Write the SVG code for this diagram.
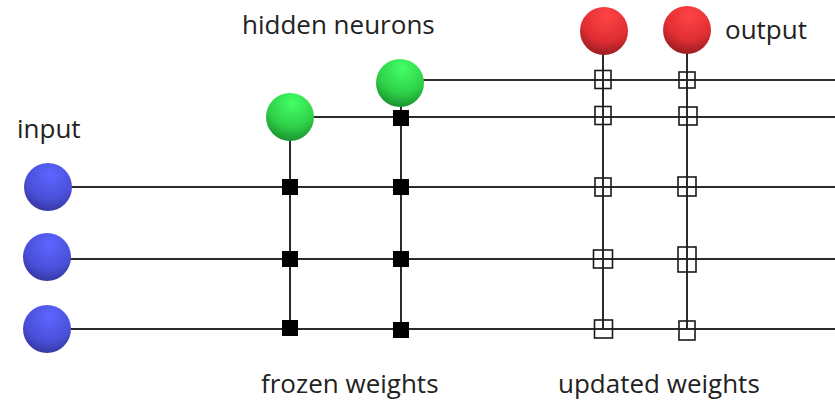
<svg xmlns="http://www.w3.org/2000/svg" width="835" height="403" viewBox="0 0 835 403">
  <defs>
    <radialGradient id="gBlue" cx="0.55" cy="0.25" r="0.85">
      <stop offset="0" stop-color="#5c66ff"/>
      <stop offset="0.6" stop-color="#4a4fd8"/>
      <stop offset="1" stop-color="#2e2f8a"/>
    </radialGradient>
    <radialGradient id="gGreen" cx="0.55" cy="0.2" r="0.85">
      <stop offset="0" stop-color="#44ff66"/>
      <stop offset="0.6" stop-color="#2ed048"/>
      <stop offset="1" stop-color="#178a2a"/>
    </radialGradient>
    <radialGradient id="gRed" cx="0.55" cy="0.2" r="0.85">
      <stop offset="0" stop-color="#ff4444"/>
      <stop offset="0.6" stop-color="#e02e34"/>
      <stop offset="1" stop-color="#8e1a1e"/>
    </radialGradient>
  </defs>
  <style>
    .wire { stroke: #2b2b2b; stroke-width: 2; fill: none; }
    .frozen { fill: #000; }
    .upd { fill: none; stroke: #1a1a1a; stroke-width: 1.6; }
    .lbl { font-family: "Open Sans", "Noto Sans", "DejaVu Sans", sans-serif; font-size: 26px; fill: #222; }
  </style>
  <rect width="835" height="403" fill="#fff"/>

  <!-- connectors: signal lines -->
  <g id="connectors">
    <line class="wire" x1="60" y1="187" x2="835" y2="187"/>
    <line class="wire" x1="60" y1="259" x2="835" y2="259"/>
    <line class="wire" x1="60" y1="329" x2="835" y2="329"/>
    <line class="wire" x1="300" y1="117" x2="835" y2="117"/>
    <line class="wire" x1="410" y1="80" x2="835" y2="80"/>
    <line class="wire" x1="290" y1="130" x2="290" y2="329"/>
    <line class="wire" x1="401" y1="95" x2="401" y2="329"/>
    <line class="wire" x1="603" y1="45" x2="603" y2="329"/>
    <line class="wire" x1="687" y1="45" x2="687" y2="329"/>
  </g>

  <!-- frozen weights (filled) -->
  <g id="frozen-weights">
    <rect class="frozen" x="282" y="179" width="16" height="16"/>
    <rect class="frozen" x="282" y="251" width="16" height="16"/>
    <rect class="frozen" x="282" y="320" width="16" height="16"/>
    <rect class="frozen" x="393" y="110" width="16" height="16"/>
    <rect class="frozen" x="393" y="179" width="16" height="16"/>
    <rect class="frozen" x="393" y="251" width="16" height="16"/>
    <rect class="frozen" x="393" y="322" width="16" height="16"/>
  </g>

  <!-- updated weights (open) -->
  <g id="updated-weights">
    <rect class="upd" x="595" y="70.5" width="16" height="18"/>
    <rect class="upd" x="595" y="106.5" width="16" height="18"/>
    <rect class="upd" x="595" y="178" width="16" height="18"/>
    <rect class="upd" x="593.5" y="250" width="19" height="18"/>
    <rect class="upd" x="594.5" y="320" width="18" height="18"/>
    <rect class="upd" x="679" y="72" width="16" height="16"/>
    <rect class="upd" x="679" y="107" width="18" height="18"/>
    <rect class="upd" x="678" y="177" width="18" height="19"/>
    <rect class="upd" x="678" y="247" width="18" height="25"/>
    <rect class="upd" x="679" y="321" width="16" height="19"/>
  </g>

  <!-- input neurons -->
  <g id="in1"><circle cx="48" cy="187" r="24" fill="url(#gBlue)"/></g>
  <g id="in2"><circle cx="47" cy="257" r="24" fill="url(#gBlue)"/></g>
  <g id="in3"><circle cx="47" cy="329" r="24" fill="url(#gBlue)"/></g>

  <!-- hidden neurons -->
  <g id="hid1"><circle cx="290" cy="117" r="24" fill="url(#gGreen)"/></g>
  <g id="hid2"><circle cx="400" cy="83" r="24" fill="url(#gGreen)"/></g>

  <!-- output neurons -->
  <g id="out1"><circle cx="604" cy="31" r="24" fill="url(#gRed)"/></g>
  <g id="out2"><circle cx="687" cy="30" r="24" fill="url(#gRed)"/></g>

  <!-- labels -->
  <g id="labels">
    <text class="lbl" x="17" y="138">input</text>
    <text class="lbl" x="242" y="34">hidden neurons</text>
    <text class="lbl" x="725" y="39">output</text>
    <text class="lbl" x="261" y="393">frozen weights</text>
    <text class="lbl" x="558" y="393">updated weights</text>
  </g>
</svg>
